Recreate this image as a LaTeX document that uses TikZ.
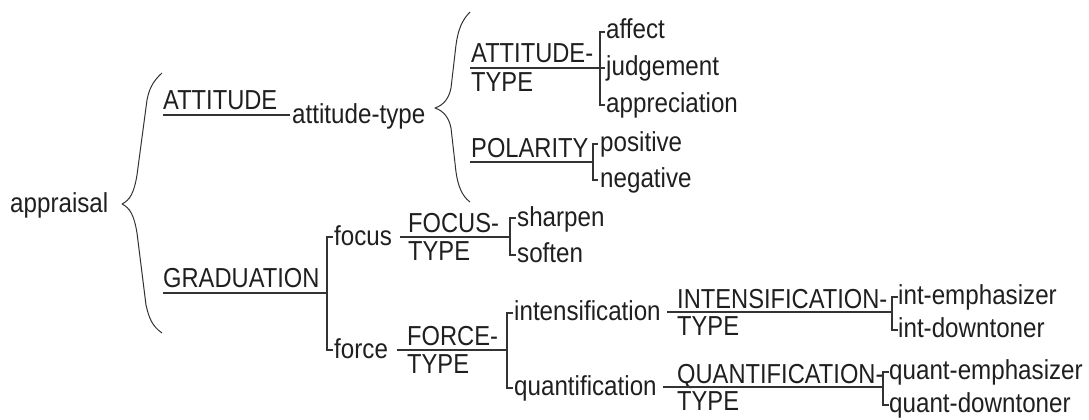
\documentclass[tikz,border=0pt]{standalone}
\usepackage{fontspec}
\setmainfont{Liberation Sans}
\newcommand{\mytxt}[1]{\scalebox{0.975}[1.13]{#1}}
\newcommand{\mylow}[1]{\scalebox{0.995}[1.13]{#1}}
\begin{document}
\begin{tikzpicture}[x=1pt,y=-1pt,
  lbl/.style={inner sep=0pt,anchor=base west,text=black!88,font=\fontsize{24.3}{28}\selectfont},
  ln/.style={draw=black!80,line width=1.15pt},
  brace/.style={draw=black!80,line width=1pt,line join=round}]
\useasboundingbox (0,0) rectangle (1089,420);

% root
\node[lbl] (appraisal) at (10,212) {\mylow{appraisal}};
\draw[brace] (162,73) .. controls (152,82) and (149,90) .. (147,100)
  -- (137,175) .. controls (134,193) and (130,200) .. (122,204)
  .. controls (130,208) and (134,215) .. (137,233)
  -- (146,305) .. controls (149,318) and (152,326) .. (162,333);

% ATTITUDE
\node[lbl] (att) at (163,109) {\mytxt{ATTITUDE}};
\coordinate (attL) at (163,115);
\coordinate (attR) at (290,115);
\draw[ln] (attL) -- (attR);
\node[lbl] (atttype) at (292,123) {\mylow{attitude-type}};

\draw[brace] (470,12) .. controls (462,20) and (458,30) .. (456,45)
  -- (451,88) .. controls (449,98) and (444,105) .. (435,108)
  .. controls (444,111) and (449,118) .. (451,128)
  -- (456,172) .. controls (458,186) and (462,196) .. (470,202);

% ATTITUDE-TYPE
\node[lbl] (at1) at (471,63) {\mytxt{ATTITUDE-}};
\node[lbl] (at2) at (471,91) {\mytxt{TYPE}};
\coordinate (atL) at (470,68);
\coordinate (atJ) at (600,68);
\coordinate (atTop) at (600,32);
\coordinate (atBot) at (600,105);
\coordinate (atT1) at (605,32);
\coordinate (atT2) at (605,68);
\coordinate (atT3) at (605,105);
\draw[ln] (atL) -- (atT2);
\draw[ln] (atT1) -- (atTop) -- (atBot) -- (atT3);
\node[lbl] (affect) at (606,39) {\mylow{affect}};
\node[lbl] (judgement) at (606,75) {\mylow{judgement}};
\node[lbl] (appreciation) at (606,112) {\mylow{appreciation}};

% POLARITY
\node[lbl] (pol) at (471,157) {\mytxt{POLARITY}};
\coordinate (polL) at (470,162);
\coordinate (polJ) at (593,162);
\coordinate (polTop) at (593,144);
\coordinate (polBot) at (593,180);
\coordinate (polT1) at (598,144);
\coordinate (polT2) at (598,180);
\draw[ln] (polL) -- (polJ);
\draw[ln] (polT1) -- (polTop) -- (polBot) -- (polT2);
\node[lbl] (positive) at (600,151) {\mylow{positive}};
\node[lbl] (negative) at (600,187) {\mylow{negative}};

% GRADUATION
\node[lbl] (grad) at (163,287) {\mytxt{GRADUATION}};
\coordinate (gradL) at (163,293);
\coordinate (gradJ) at (327,293);
\coordinate (gradTop) at (327,237);
\coordinate (gradBot) at (327,350);
\coordinate (gradT1) at (333,237);
\coordinate (gradT2) at (333,350);
\draw[ln] (gradL) -- (gradJ);
\draw[ln] (gradT1) -- (gradTop) -- (gradBot) -- (gradT2);
\node[lbl] (focus) at (334,245) {\mylow{focus}};
\node[lbl] (force) at (334,358) {\mylow{force}};

% FOCUS-TYPE
\node[lbl] (fo1) at (408,232) {\mytxt{FOCUS-}};
\node[lbl] (fo2) at (408,260) {\mytxt{TYPE}};
\coordinate (foL) at (400,237);
\coordinate (foJ) at (510,237);
\coordinate (foTop) at (510,218);
\coordinate (foBot) at (510,255);
\coordinate (foT1) at (516,218);
\coordinate (foT2) at (516,255);
\draw[ln] (foL) -- (foJ);
\draw[ln] (foT1) -- (foTop) -- (foBot) -- (foT2);
\node[lbl] (sharpen) at (517,226) {\mylow{sharpen}};
\node[lbl] (soften) at (517,262) {\mylow{soften}};

% FORCE-TYPE
\node[lbl] (fr1) at (407,345) {\mytxt{FORCE-}};
\node[lbl] (fr2) at (407,373) {\mytxt{TYPE}};
\coordinate (frL) at (397,350);
\coordinate (frJ) at (507,350);
\coordinate (frTop) at (507,313);
\coordinate (frBot) at (507,388);
\coordinate (frT1) at (513,313);
\coordinate (frT2) at (513,388);
\draw[ln] (frL) -- (frJ);
\draw[ln] (frT1) -- (frTop) -- (frBot) -- (frT2);
\node[lbl] (intens) at (514,320) {\mylow{intensification}};
\node[lbl] (quant) at (514,395) {\mylow{quantification}};

% INTENSIFICATION-TYPE
\node[lbl] (in1) at (677,308) {\mytxt{INTENSIFICATION-}};
\node[lbl] (in2) at (677,335) {\mytxt{TYPE}};
\coordinate (inL) at (667,312);
\coordinate (inJ) at (892,312);
\coordinate (inTop) at (892,297);
\coordinate (inBot) at (892,330);
\coordinate (inT1) at (898,297);
\coordinate (inT2) at (898,330);
\draw[ln] (inL) -- (inJ);
\draw[ln] (inT1) -- (inTop) -- (inBot) -- (inT2);
\node[lbl] (intemph) at (898,304) {\mylow{int-emphasizer}};
\node[lbl] (intdown) at (898,337) {\mylow{int-downtoner}};

% QUANTIFICATION-TYPE
\node[lbl] (qu1) at (677,383) {\mytxt{QUANTIFICATION-}};
\node[lbl] (qu2) at (677,410) {\mytxt{TYPE}};
\coordinate (quL) at (663,387);
\coordinate (quJ) at (883,387);
\coordinate (quTop) at (883,372);
\coordinate (quBot) at (883,405);
\coordinate (quT1) at (889,372);
\coordinate (quT2) at (889,405);
\draw[ln] (quL) -- (quJ);
\draw[ln] (quT1) -- (quTop) -- (quBot) -- (quT2);
\node[lbl] (quemph) at (889,379) {\mylow{quant-emphasizer}};
\node[lbl] (qudown) at (889,412) {\mylow{quant-downtoner}};
\end{tikzpicture}
\end{document}
